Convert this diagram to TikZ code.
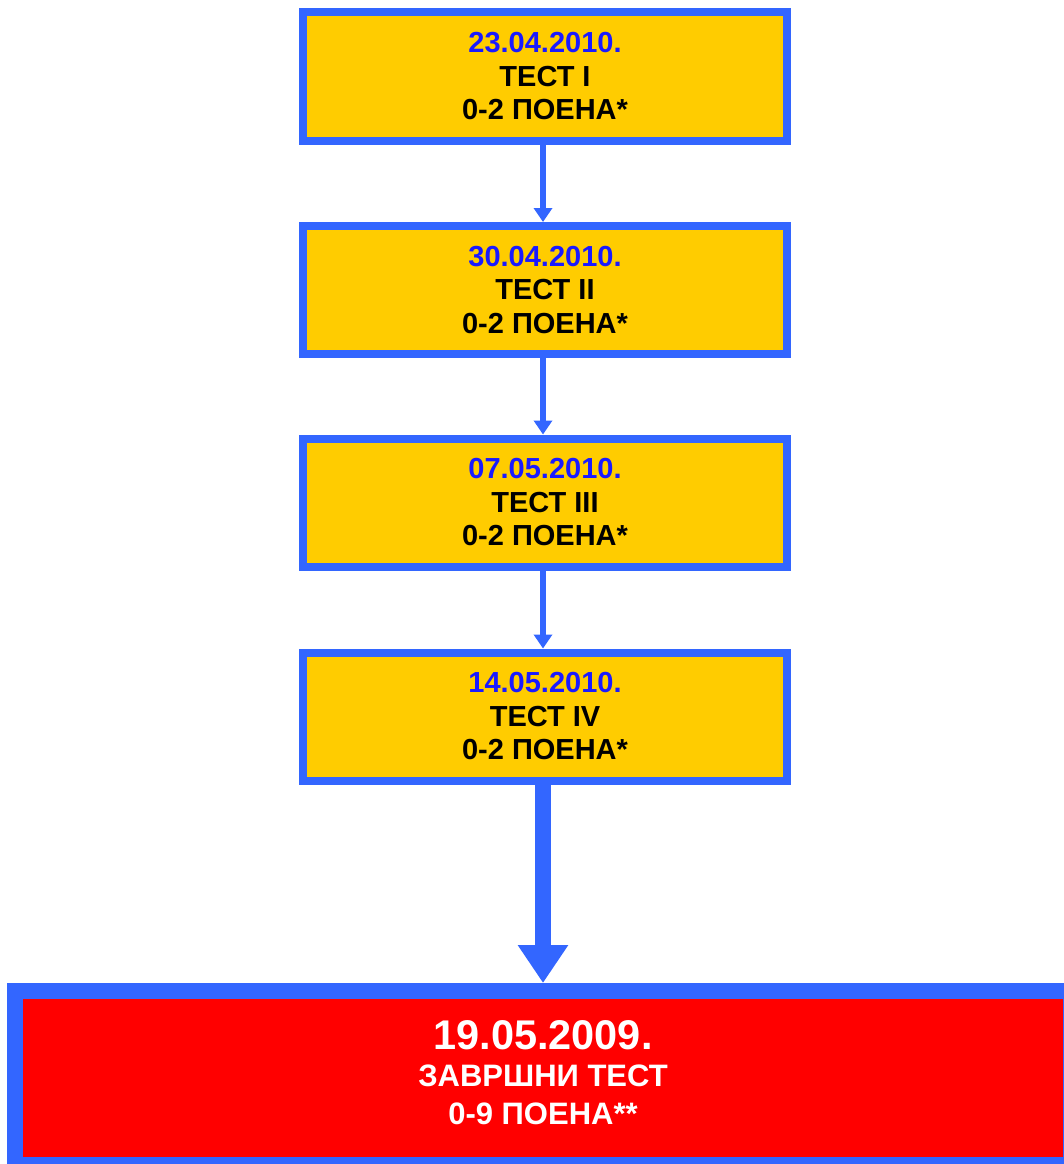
\documentclass[tikz,border=0pt]{standalone}
\usepackage{fontspec}
\setmainfont{Liberation Sans}
\usetikzlibrary{arrows.meta}
\definecolor{bordblue}{HTML}{3366FF}
\definecolor{boxyellow}{HTML}{FFCC00}
\definecolor{datblue}{HTML}{1A1AFF}
\definecolor{boxred}{HTML}{FF0000}
\tikzset{
  testbox/.style={draw=bordblue, fill=boxyellow, line width=8pt, rectangle,
    minimum width=484pt, minimum height=128pt, inner sep=0pt, align=center,
    font=\fontsize{29}{33.5}\selectfont\bfseries},
  finalbox/.style={draw=bordblue, fill=boxred, line width=16pt, rectangle,
    minimum width=1056pt, minimum height=174pt, inner sep=0pt, align=center,
    text=white, text depth=12pt, font=\fontsize{31}{37.5}\selectfont\bfseries},
  smallarrow/.style={draw=bordblue, line width=6pt, -{Triangle[width=18pt,length=14pt]}},
  bigarrow/.style={draw=bordblue, line width=16pt, -{Triangle[width=48pt,length=38pt]}},
}
\begin{document}
\begin{tikzpicture}[x=1pt,y=-1pt]
\path[use as bounding box, clip] (0,0) rectangle (1064,1164);
\node[testbox] (t1) at (545,76.5) {\textcolor{datblue}{23.04.2010.}\\ТЕСТ I\\0-2 ПОЕНА*};
\node[testbox] (t2) at (545,290) {\textcolor{datblue}{30.04.2010.}\\ТЕСТ II\\0-2 ПОЕНА*};
\node[testbox] (t3) at (545,502.5) {\textcolor{datblue}{07.05.2010.}\\ТЕСТ III\\0-2 ПОЕНА*};
\node[testbox] (t4) at (545,716.5) {\textcolor{datblue}{14.05.2010.}\\ТЕСТ IV\\0-2 ПОЕНА*};
\node[finalbox] (fin) at (543,1078) {{\fontsize{41.5}{38}\selectfont 19.05.2009.}\\ЗАВРШНИ ТЕСТ\\0-9 ПОЕНА**};
\draw[smallarrow] ([xshift=-2pt]t1.south) -- ([xshift=-2pt]t2.north);
\draw[smallarrow] ([xshift=-2pt]t2.south) -- ([xshift=-2pt]t3.north);
\draw[smallarrow] ([xshift=-2pt]t3.south) -- ([xshift=-2pt]t4.north);
\draw[bigarrow] ([xshift=-2pt]t4.south) -- (fin.north);
\end{tikzpicture}
\end{document}
